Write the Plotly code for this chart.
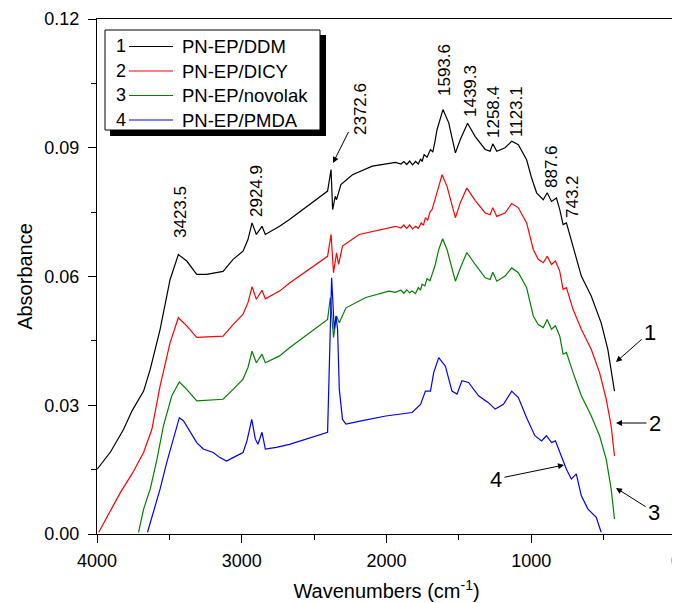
import plotly.graph_objects as go

# ---------------- data ----------------
wn_ddm = [3999, 3907, 3816, 3758, 3678, 3632, 3564, 3495, 3438, 3380, 3311, 3243, 3129, 3060,
          2991, 2957, 2929, 2899, 2860, 2837, 2739, 2670, 2407, 2383, 2372, 2354, 2345, 2315,
          2235, 2098, 1937, 1900, 1880, 1860, 1840, 1820, 1799, 1780, 1765, 1754, 1740, 1720,
          1696, 1680, 1665, 1651, 1610, 1570, 1524, 1490, 1440, 1387, 1318, 1284, 1266, 1238,
          1181, 1135, 1089, 1032, 998, 963, 917, 890, 860, 826, 803, 780, 757, 711, 654, 585,
          517, 471, 448, 425]
abs_ddm = [0.0151, 0.0191, 0.0244, 0.0287, 0.0333, 0.0384, 0.0477, 0.0593, 0.0651, 0.0636,
           0.0605, 0.0605, 0.0612, 0.0640, 0.0659, 0.0686, 0.0725, 0.0698, 0.0717, 0.0698,
           0.0717, 0.0733, 0.0799, 0.0849, 0.0756, 0.0787, 0.0779, 0.0814, 0.0837, 0.0857,
           0.0866, 0.0862, 0.0868, 0.0861, 0.0869, 0.0860, 0.0868, 0.0862, 0.0874, 0.0868,
           0.0884, 0.0878, 0.0896, 0.0890, 0.0915, 0.0942, 0.0989, 0.0958, 0.0888, 0.0919,
           0.0957, 0.0926, 0.0896, 0.0892, 0.0909, 0.0892, 0.0900, 0.0915, 0.0907, 0.0872,
           0.0830, 0.0795, 0.0779, 0.0795, 0.0775, 0.0783, 0.0756, 0.0721, 0.0725, 0.0671,
           0.0601, 0.0554, 0.0492, 0.0430, 0.0376, 0.0333]

wn_dicy = [3988, 3907, 3838, 3758, 3678, 3621, 3564, 3495, 3438, 3380, 3311, 3129, 3060, 2991,
           2957, 2929, 2899, 2860, 2837, 2739, 2670, 2407, 2383, 2366, 2345, 2331, 2304, 2189,
           2052, 1937, 1900, 1880, 1860, 1840, 1820, 1799, 1780, 1760, 1745, 1731, 1715, 1700,
           1685, 1665, 1639, 1616, 1582, 1524, 1490, 1445, 1387, 1318, 1284, 1266, 1238, 1181,
           1135, 1089, 1032, 986, 952, 917, 890, 860, 833, 803, 780, 757, 711, 654, 585, 528,
           482, 448, 425]
abs_dicy = [0.0004, 0.0054, 0.0097, 0.0140, 0.0190, 0.0244, 0.0345, 0.0446, 0.0504, 0.0485,
            0.0458, 0.0461, 0.0488, 0.0512, 0.0539, 0.0576, 0.0547, 0.0568, 0.0548, 0.0566,
            0.0585, 0.0647, 0.0698, 0.0609, 0.0655, 0.0628, 0.0671, 0.0698, 0.0709, 0.0717,
            0.0713, 0.0720, 0.0712, 0.0720, 0.0711, 0.0717, 0.0712, 0.0725, 0.0719, 0.0737,
            0.0731, 0.0750, 0.0756, 0.0782, 0.0810, 0.0837, 0.0810, 0.0737, 0.0772, 0.0806,
            0.0777, 0.0748, 0.0744, 0.0760, 0.0740, 0.0748, 0.0770, 0.0760, 0.0725, 0.0663,
            0.0640, 0.0632, 0.0647, 0.0628, 0.0636, 0.0612, 0.0570, 0.0574, 0.0523, 0.0477,
            0.0430, 0.0376, 0.0314, 0.0252, 0.0182]

wn_novolak = [3713, 3678, 3632, 3586, 3541, 3483, 3431, 3380, 3311, 3129, 3060, 2991, 2957,
              2929, 2899, 2860, 2837, 2739, 2670, 2407, 2388, 2366, 2345, 2326, 2280, 2143,
              1983, 1940, 1900, 1880, 1860, 1840, 1823, 1800, 1780, 1765, 1754, 1735, 1720,
              1700, 1685, 1665, 1639, 1612, 1582, 1524, 1490, 1445, 1387, 1318, 1284, 1266,
              1238, 1181, 1135, 1089, 1032, 986, 952, 917, 890, 860, 833, 803, 780, 757, 711,
              654, 585, 528, 482, 448, 425]
abs_novolak = [0.0004, 0.0058, 0.0105, 0.0174, 0.0252, 0.0322, 0.0354, 0.0337, 0.0310, 0.0314,
               0.0337, 0.0361, 0.0388, 0.0426, 0.0399, 0.0419, 0.0399, 0.0415, 0.0434, 0.0500,
               0.0551, 0.0458, 0.0508, 0.0492, 0.0527, 0.0551, 0.0566, 0.0563, 0.0568, 0.0561,
               0.0569, 0.0562, 0.0566, 0.0560, 0.0574, 0.0568, 0.0582, 0.0578, 0.0595, 0.0590,
               0.0605, 0.0625, 0.0663, 0.0688, 0.0663, 0.0589, 0.0620, 0.0656, 0.0628, 0.0597,
               0.0593, 0.0610, 0.0589, 0.0601, 0.0620, 0.0609, 0.0574, 0.0508, 0.0488, 0.0481,
               0.0500, 0.0477, 0.0485, 0.0461, 0.0419, 0.0423, 0.0376, 0.0322, 0.0275, 0.0229,
               0.0174, 0.0105, 0.0035]

wn_pmda = [3651, 3610, 3564, 3518, 3460, 3431, 3403, 3357, 3311, 3266, 3197, 3151, 3105, 3060,
           2991, 2964, 2931, 2906, 2888, 2860, 2837, 2761, 2670, 2407, 2395, 2379, 2361, 2349,
           2338, 2326, 2304, 2280, 2166, 2005, 1823, 1765, 1731, 1696, 1674, 1639, 1593, 1548,
           1513, 1479, 1433, 1364, 1296, 1249, 1192, 1135, 1089, 1032, 975, 929, 895, 860, 833,
           792, 757, 723, 689, 654, 608, 551, 517]
abs_pmda = [0.0004, 0.0050, 0.0105, 0.0167, 0.0237, 0.0271, 0.0264, 0.0237, 0.0213, 0.0198,
            0.0190, 0.0178, 0.0170, 0.0178, 0.0190, 0.0217, 0.0267, 0.0221, 0.0209, 0.0237,
            0.0198, 0.0202, 0.0209, 0.0237, 0.0376, 0.0597, 0.0477, 0.0508, 0.0477, 0.0337,
            0.0267, 0.0256, 0.0264, 0.0275, 0.0283, 0.0302, 0.0333, 0.0333, 0.0376, 0.0411,
            0.0391, 0.0333, 0.0326, 0.0357, 0.0353, 0.0322, 0.0306, 0.0291, 0.0302, 0.0333,
            0.0318, 0.0271, 0.0229, 0.0217, 0.0229, 0.0213, 0.0217, 0.0182, 0.0151, 0.0128,
            0.0140, 0.0089, 0.0058, 0.0039, 0.0004]

series_nums = ["1", "2", "3", "4"]
series_names = ["PN-EP/DDM", "PN-EP/DICY", "PN-EP/novolak", "PN-EP/PMDA"]
peak_labels = ["3423.5", "2924.9", "2372.6", "1593.6", "1439.3", "1258.4", "1123.1", "887.6", "743.2"]
x_ticks = [4000, 3000, 2000, 1000, 0]
y_ticks = [0.00, 0.03, 0.06, 0.09, 0.12]

# ---------------- layout helpers ----------------
# The page body has an 8 px default margin, so the figure is drawn 8 px smaller
# and its contents are placed so that the page matches the 680x603 reference.
OFF = 8
PLOT_L, PLOT_R, PLOT_T, PLOT_B = 97, 676, 19, 534   # plot area in page pixels
W, H = 680 - OFF, 603 - OFF
L, T = PLOT_L - OFF, PLOT_T - OFF
R = W - (PLOT_R - OFF)
B = H - (PLOT_B - OFF)
PW, PH = PLOT_R - PLOT_L, PLOT_B - PLOT_T
FONT = "Liberation Sans, Arial, sans-serif"


def fx(x):
    return (x - PLOT_L) / PW


def fy(y):
    return (PLOT_B - y) / PH


colors = ["#000000", "#ff0000", "#008000", "#0000ff"]
xs = [wn_ddm, wn_dicy, wn_novolak, wn_pmda]
ys = [abs_ddm, abs_dicy, abs_novolak, abs_pmda]

fig = go.Figure()
for i in range(4):
    fig.add_trace(go.Scatter(x=xs[i], y=ys[i], mode="lines", name=series_names[i],
                             line=dict(color=colors[i], width=1.2), showlegend=False))

shapes = []
annotations = []

# manual legend (box with drop shadow)
shapes.append(dict(type="rect", xref="paper", yref="paper", x0=fx(110), x1=fx(326),
                   y0=fy(136), y1=fy(35), fillcolor="black", line=dict(width=0), layer="above"))
shapes.append(dict(type="rect", xref="paper", yref="paper", x0=fx(105), x1=fx(320),
                   y0=fy(130), y1=fy(30), fillcolor="white", line=dict(color="black", width=1),
                   layer="above"))
row_y = [46.5, 71, 95.5, 120]
for i in range(4):
    shapes.append(dict(type="line", xref="paper", yref="paper", x0=fx(129), x1=fx(173),
                       y0=fy(row_y[i]), y1=fy(row_y[i]), line=dict(color=colors[i], width=1.2),
                       layer="above"))
    annotations.append(dict(xref="paper", yref="paper", x=fx(121), y=fy(row_y[i]),
                            text=series_nums[i], showarrow=False, xanchor="center",
                            yanchor="middle", font=dict(size=18, color="black", family=FONT)))
    annotations.append(dict(xref="paper", yref="paper", x=fx(180), y=fy(row_y[i]),
                            text=series_names[i], showarrow=False, xanchor="left",
                            yanchor="middle", font=dict(size=18.5, color="black", family=FONT)))

# rotated peak labels; the 2372.6 one carries an arrow
peak_pos = [(180, 212), (256, 191), (360, 109), (444, 70), (470, 91), (494, 112),
            (517, 112), (551, 167), (572, 197)]
for lab, (px_, py_) in zip(peak_labels, peak_pos):
    if lab == "2372.6":
        hx, hy = 333, 163
        annotations.append(dict(xref="paper", yref="paper", x=fx(hx), y=fy(hy), text=lab,
                                textangle=-90, showarrow=True, ax=px_ - hx, ay=py_ - hy,
                                arrowhead=2, arrowsize=1.2, arrowwidth=1, arrowcolor="black",
                                standoff=0, startstandoff=1,
                                font=dict(size=17, color="black", family=FONT)))
    else:
        annotations.append(dict(xref="paper", yref="paper", x=fx(px_), y=fy(py_), text=lab,
                                textangle=-90, showarrow=False, xanchor="center", yanchor="middle",
                                font=dict(size=17, color="black", family=FONT)))

# curve number labels with arrows: (text centre, arrow head)
num_pos = [((650, 332), (616, 362)),
           ((655, 423), (616, 423)),
           ((654, 512), (616, 488)),
           ((496, 479), (564, 465))]
for n, ((tx, ty), (hx, hy)) in zip(series_nums, num_pos):
    annotations.append(dict(xref="paper", yref="paper", x=fx(hx), y=fy(hy), text=n,
                            showarrow=True, ax=tx - hx, ay=ty - hy, arrowhead=2, arrowsize=1.2,
                            arrowwidth=1, arrowcolor="black", standoff=0, startstandoff=1,
                            font=dict(size=22, color="black", family=FONT)))

fig.update_layout(
    width=W, height=H,
    margin=dict(l=L, r=R, t=T, b=B, pad=0),
    paper_bgcolor="white", plot_bgcolor="white",
    font=dict(family=FONT, color="black"),
    shapes=shapes, annotations=annotations,
    xaxis=dict(range=[4000, 0], tickvals=x_ticks, ticktext=[str(v) for v in x_ticks],
               ticks="outside", ticklen=8, tickwidth=1, tickcolor="black",
               minor=dict(dtick=500, ticks="outside", ticklen=5, tickcolor="black", tickwidth=1),
               showline=True, linecolor="black", linewidth=1, mirror=True, automargin=False,
               showgrid=False, zeroline=False, tickfont=dict(size=18), ticklabelstandoff=2,
               ticklabeloverflow="allow",
               title=dict(text="Wavenumbers (cm<sup>-1</sup>)", font=dict(size=20), standoff=14)),
    yaxis=dict(range=[0, 0.12], tickvals=y_ticks, ticktext=["%.2f" % v for v in y_ticks],
               ticks="outside", ticklen=8, tickwidth=1, tickcolor="black",
               minor=dict(dtick=0.015, tick0=0, ticks="outside", ticklen=5, tickcolor="black", tickwidth=1),
               showline=True, linecolor="black", linewidth=1, mirror=True, automargin=False,
               showgrid=False, zeroline=False, tickfont=dict(size=18), ticklabelstandoff=5,
               title=dict(text="Absorbance", font=dict(size=20), standoff=6)),
)

fig.write_html("out.html")
